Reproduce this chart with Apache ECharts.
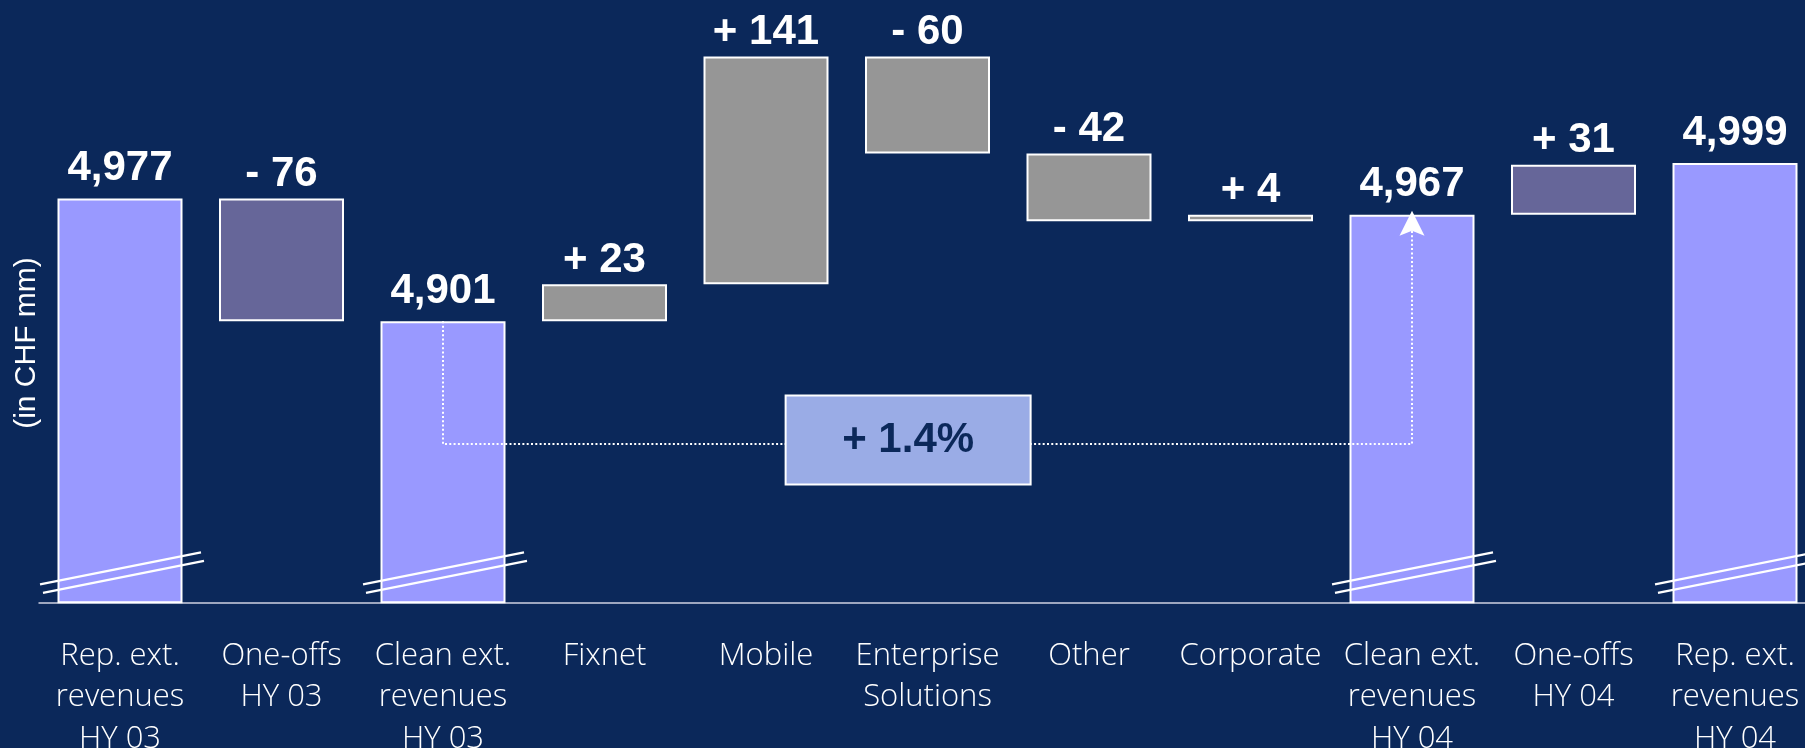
<!DOCTYPE html>
<html>
<head>
<meta charset="utf-8">
<script src="https://cdn.jsdelivr.net/npm/echarts@6/dist/echarts.min.js"></script>
<style>
  html, body { margin: 0; padding: 0; background: #0b285a; }
  #chart { width: 1805px; height: 748px; }
</style>
</head>
<body>
<div id="chart"></div>
<script>
// Revenue bridge HY 03 -> HY 04 (in CHF mm)
const categories = [
  'Rep. ext.\nrevenues\nHY 03',
  'One-offs\nHY 03',
  'Clean ext.\nrevenues\nHY 03',
  'Fixnet',
  'Mobile',
  'Enterprise\nSolutions',
  'Other',
  'Corporate',
  'Clean ext.\nrevenues\nHY 04',
  'One-offs\nHY 04',
  'Rep. ext.\nrevenues\nHY 04'
];
// totals are absolute levels, every other entry is a change
const values = [4977, -76, 4901, 23, 141, -60, -42, 4, 4967, 31, 4999];
const barKinds = ['total', 'oneoff', 'total', 'segment', 'segment', 'segment',
                  'segment', 'segment', 'total', 'oneoff', 'total'];
const growthLabel = '+ 1.4%';
const yMin = 4727;
const yMax = 5100;
const bridgeLevel = 4825;

const kindColor = { total: '#9999ff', oneoff: '#666699', segment: '#969696' };
const LABEL_FONT = '"Liberation Sans", Arial, sans-serif';

// floating bars: transparent base + visible piece
const baseData = [];
const barData = [];
let running = 0;
values.forEach((v, i) => {
  const kind = barKinds[i];
  if (kind === 'total') {
    baseData.push(0);
    running = v;
    barData.push({
      value: v,
      itemStyle: { color: kindColor[kind] },
      label: { formatter: v.toLocaleString('en-US'), distance: 9 }
    });
  } else {
    const start = running;
    const end = running + v;
    baseData.push(Math.min(start, end));
    running = end;
    barData.push({
      value: Math.abs(v),
      itemStyle: { color: kindColor[kind] },
      label: { formatter: (v > 0 ? '+ ' : '- ') + Math.abs(v), distance: 3 }
    });
  }
});

const breakData = barKinds
  .map((k, i) => (k === 'total' ? [i, yMin] : null))
  .filter(Boolean);

function renderBreak(params, api) {
  const p = api.coord([api.value(0), yMin]);
  const cx = p[0], by = p[1];
  const st = { stroke: '#ffffff', lineWidth: 2.2 };
  return {
    type: 'group',
    children: [
      { type: 'line', shape: { x1: cx - 80, y1: by - 18, x2: cx + 81, y2: by - 50 }, style: st },
      { type: 'line', shape: { x1: cx - 77, y1: by - 9.5, x2: cx + 84, y2: by - 41.5 }, style: st }
    ]
  };
}

function renderBridge(params, api) {
  const from = api.coord([2, values[2]]);
  const to = api.coord([8, values[8]]);
  const levelY = api.coord([0, bridgeLevel])[1];
  const boxW = 245, boxH = 89;
  const boxX = from[0] + (to[0] - from[0]) * 0.48;
  const boxY = levelY - 4;
  const dotted = { stroke: '#ffffff', lineWidth: 2, lineDash: [2, 2.3], fill: null };
  return {
    type: 'group',
    children: [
      {
        type: 'polyline',
        shape: { points: [[from[0], from[1]], [from[0], levelY], [to[0], levelY], [to[0], to[1] + 16]] },
        style: dotted
      },
      {
        type: 'polygon',
        shape: { points: [[to[0], to[1] - 4], [to[0] - 12.5, to[1] + 21], [to[0], to[1] + 16], [to[0] + 12.5, to[1] + 21]] },
        style: { fill: '#ffffff' }
      },
      {
        type: 'rect',
        shape: { x: boxX - boxW / 2, y: boxY - boxH / 2, width: boxW, height: boxH },
        style: { fill: '#9aace6', stroke: '#ffffff', lineWidth: 2 }
      },
      {
        type: 'text',
        x: boxX, y: boxY,
        style: {
          text: growthLabel, fill: '#0b285a',
          font: 'bold 42px ' + LABEL_FONT,
          align: 'center', verticalAlign: 'middle'
        }
      }
    ]
  };
}

const chart = echarts.init(document.getElementById('chart'));
chart.setOption({
  backgroundColor: '#0b285a',
  animation: false,
  grid: {
    left: 39.25, top: 0, width: 1776.5, height: 602.3,
    containLabel: false,
    outerBoundsMode: 'none'
  },
  xAxis: {
    type: 'category',
    data: categories,
    axisLine: { lineStyle: { color: '#9ea7c0', width: 2 } },
    axisTick: { show: false },
    axisLabel: {
      interval: 0,
      hideOverlap: false,
      color: '#ffffff',
      fontFamily: '"Open Sans", "Noto Sans", sans-serif',
      fontWeight: 300,
      fontSize: 31,
      lineHeight: 41.5,
      margin: 33
    }
  },
  yAxis: {
    type: 'value',
    min: yMin,
    max: yMax,
    show: false,
    splitLine: { show: false }
  },
  graphic: [{
    type: 'text',
    x: 26.7, y: 343,
    rotation: Math.PI / 2,
    style: {
      text: '(in CHF mm)',
      fill: '#ffffff',
      font: '30px ' + LABEL_FONT,
      align: 'center', verticalAlign: 'middle'
    }
  }],
  series: [
    {
      type: 'bar',
      stack: 'bridge',
      data: baseData,
      barWidth: 125,
      itemStyle: { color: 'transparent', borderWidth: 0 },
      silent: true,
      emphasis: { disabled: true }
    },
    {
      type: 'bar',
      stack: 'bridge',
      data: barData,
      barWidth: 125,
      itemStyle: { borderColor: '#ffffff', borderWidth: 2 },
      label: {
        show: true,
        position: 'top',
        color: '#ffffff',
        fontFamily: LABEL_FONT,
        fontWeight: 'bold',
        fontSize: 42
      },
      emphasis: { disabled: true }
    },
    {
      type: 'custom',
      data: breakData,
      renderItem: renderBreak,
      clip: false,
      silent: true,
      z: 5
    },
    {
      type: 'custom',
      data: [[2, values[2]]],
      renderItem: renderBridge,
      clip: false,
      silent: true,
      z: 6
    }
  ]
});
</script>
</body>
</html>
